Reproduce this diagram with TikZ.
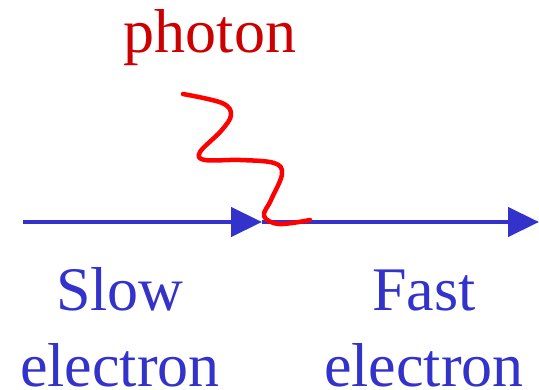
\documentclass[tikz,border=0pt]{standalone}
\usepackage{fontspec}
\setmainfont{Liberation Serif}
\usetikzlibrary{arrows.meta}
\definecolor{elec}{HTML}{3333CC}
\definecolor{phot}{HTML}{FF0000}
\definecolor{photlabel}{HTML}{CC0000}

\begin{document}
\begin{tikzpicture}[
  x=1pt, y=-1pt,
  fermion/.style={draw=elec, line width=4.5pt,
    -{Triangle[length=31pt, width=29pt]}},
  wavy/.style={draw=phot, line width=4.5pt, line cap=round, line join=round},
  label/.style={font=\fontsize{62}{77}\selectfont, align=center, inner sep=0pt}
]
  \useasboundingbox (0,0) rectangle (539,390);

  \coordinate (start) at (23,222);
  \coordinate (vertex) at (262,222);
  \coordinate (finish) at (539,222);
  \coordinate (emit) at (183,94);
  \coordinate (absorb) at (310,220);

  \node[label, text=photlabel, anchor=base] (photon) at (210,53) {photon};
  % base of a two-line node is the last line
  \node[label, text=elec, anchor=base] (slow) at (120,387) {Slow\\electron};
  \node[label, text=elec, anchor=base] (fast) at (424,387) {Fast\\electron};

  \draw[fermion] (start) -- (vertex);
  \draw[fermion] (vertex) -- (finish);
  \draw[wavy] plot[smooth, tension=0.6] coordinates {(emit) (222,103) (231,115)
    (221,131) (200,152) (205,160) (240,160) (274,163) (282,174) (271,200)
    (264,216) (279,224) (absorb)};
\end{tikzpicture}
\end{document}
